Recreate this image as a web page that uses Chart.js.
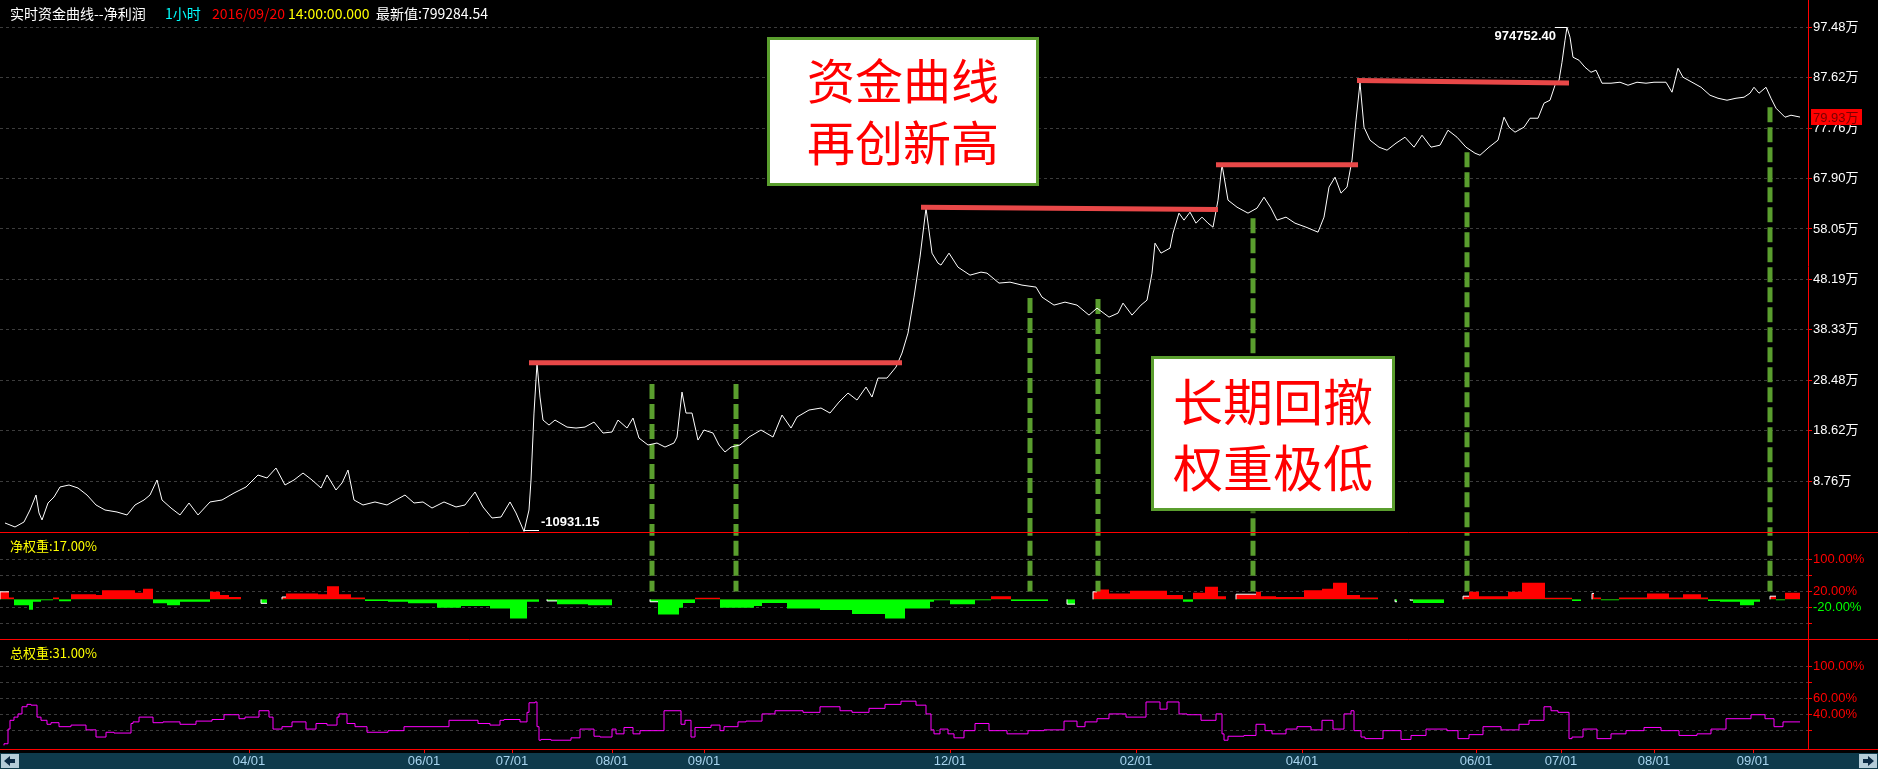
<!DOCTYPE html>
<html>
<head>
<meta charset="utf-8">
<script src="https://cdn.jsdelivr.net/npm/chart.js@4.4.1/dist/chart.umd.min.js"></script>
<style>
html, body { margin: 0; padding: 0; background: #000; }
#wrap { position: relative; width: 1878px; height: 769px; background: #000; overflow: hidden; }
canvas { position: absolute; left: 0; }
.t { position: absolute; white-space: nowrap; font-family: "Noto Sans CJK SC", sans-serif; font-size: 14px; line-height: 14px; }
.box { position: absolute; box-sizing: border-box; background: #fff; border: 3px solid #5a9e2e; color: #ff0000;
       text-align: center; font-family: "Noto Sans CJK SC", sans-serif; box-shadow: 2px 2px 4px rgba(0,0,0,.6); }
</style>
</head>
<body>
<div id="wrap">
  <canvas id="cMain" width="1878" height="532" style="top:0"></canvas>
  <canvas id="cNet" width="1878" height="107" style="top:532px"></canvas>
  <canvas id="cTotal" width="1878" height="130" style="top:639px"></canvas>

  <div class="t" style="left:10px;top:6px;color:#fff">实时资金曲线--净利润</div>
  <div class="t" style="left:165px;top:6px;color:#00ffff">1小时</div>
  <div class="t" style="left:212px;top:6px;color:#ff0000">2016/09/20</div>
  <div class="t" style="left:288px;top:6px;color:#ffff00">14:00:00.000</div>
  <div class="t" style="left:376px;top:6px;color:#fff">最新值:799284.54</div>

  <div class="t" style="left:10px;top:539px;color:#ffff00;font-size:13px">净权重:17.00%</div>
  <div class="t" style="left:10px;top:646px;color:#ffff00;font-size:13px">总权重:31.00%</div>

  <div class="box" style="left:767px;top:37px;width:272px;height:149px;padding-top:7px;font-size:48px;line-height:62px">资金曲线<br>再创新高</div>
  <div class="box" style="left:1151px;top:356px;width:244px;height:155px;padding-top:7px;font-size:50px;line-height:66px">长期回撤<br>权重极低</div>
</div>

<script>
// x = 小时K线序号, 横轴刻度对应月初
const monthTickIdx = [249, 424, 512, 612, 704, 950, 1136, 1302, 1476, 1561, 1654, 1753];
const monthTickLabels = ['04/01', '06/01', '07/01', '08/01', '09/01', '12/01', '02/01', '04/01', '06/01', '07/01', '08/01', '09/01'];

// 资金曲线 (万)
const equityTicks = [8.76, 18.62, 28.48, 38.33, 48.19, 58.05, 67.90, 77.76, 87.62, 97.48];
const equity = [
  [5,0.55],[15,-0.23],[24,0.75],[30,3.09],[36,6.02],[39,2.51],[42,1.14],[48,4.46],[54,5.63],[60,7.59],
  [69,7.98],[78,7.39],[87,6.02],[96,4.07],[105,3.09],[117,2.70],[127,2.12],[135,4.07],[144,5.05],[150,6.02],
  [157,8.96],[162,5.05],[171,3.48],[180,2.12],[189,4.46],[198,2.12],[210,4.66],[222,5.05],[234,6.41],[246,7.59],
  [258,9.93],[267,9.35],[276,11.30],[285,7.98],[294,8.96],[303,10.32],[312,8.96],[321,7.39],[327,9.93],[336,7.00],
  [342,8.37],[348,10.91],[354,5.05],[363,4.07],[375,4.66],[387,4.07],[396,5.05],[405,6.02],[414,4.46],[423,4.66],
  [432,3.48],[444,4.66],[456,3.68],[465,4.07],[475,6.61],[483,3.68],[492,1.53],[501,1.72],[510,4.66],[516,2.51],
  [524,-1.093115],[529,3.09],[531,8.96],[534,22.05],[537,31.80],[540,25.18],[543,20.68],[549,19.70],[555,20.68],[567,19.31],
  [576,19.12],[585,19.31],[594,20.29],[603,18.14],[612,18.34],[618,20.68],[627,19.12],[633,21.07],[639,17.16],[648,15.80],
  [657,16.19],[665,15.40],[674,16.19],[677,17.36],[682,26.15],[686,22.05],[692,22.05],[698,16.77],[704,18.73],[713,18.14],
  [719,15.80],[725,14.43],[731,15.40],[740,15.80],[749,17.36],[761,18.73],[773,17.36],[782,21.66],[791,19.12],[797,21.27],
  [809,22.64],[821,23.03],[830,22.05],[839,24.20],[848,25.96],[857,24.59],[866,27.13],[872,25.18],[878,28.89],[887,28.89],
  [896,31.04],[902,33.78],[908,37.69],[914,44.72],[920,52.54],[926,62.10],[932,53.32],[938,51.37],[941,50.98],[949,53.32],
  [958,50.58],[970,49.02],[981,49.61],[987,49.41],[999,47.46],[1010,47.65],[1022,47.07],[1036,46.68],[1042,44.72],[1054,43.16],
  [1065,43.74],[1077,43.16],[1089,41.20],[1097,42.57],[1109,40.81],[1118,41.59],[1123,43.55],[1132,41.20],[1141,43.16],[1147,44.13],
  [1152,49.41],[1155,55.27],[1161,53.32],[1170,54.30],[1173,57.23],[1179,61.14],[1184,59.77],[1190,61.33],[1196,59.18],[1202,60.36],
  [1208,59.18],[1213,58.40],[1218,63.68],[1222,70.60],[1228,63.68],[1237,62.31],[1248,61.14],[1257,62.12],[1264,64.26],[1271,62.12],
  [1277,59.77],[1286,60.36],[1295,59.18],[1306,58.40],[1318,57.42],[1324,60.36],[1329,66.22],[1335,68.17],[1341,65.05],[1347,66.22],
  [1352,71.50],[1356,79.31],[1360,86.60],[1364,77.95],[1370,75.41],[1379,74.04],[1387,73.45],[1396,74.82],[1405,75.99],[1414,74.04],
  [1422,76.38],[1431,74.04],[1440,74.43],[1448,77.36],[1457,75.99],[1466,74.04],[1475,72.86],[1480,72.47],[1489,74.04],[1498,75.41],
  [1504,79.90],[1509,77.95],[1515,76.97],[1524,77.95],[1530,79.70],[1538,79.70],[1544,82.64],[1550,83.22],[1555,86.15],[1559,87.13],
  [1562,90.65],[1565,94.95],[1567,97.47524],[1570,95.54],[1573,91.63],[1579,91.04],[1585,89.67],[1591,88.69],[1596,89.09],[1602,86.55],
  [1611,86.55],[1620,86.74],[1628,86.15],[1637,86.74],[1646,86.55],[1654,86.74],[1666,86.74],[1672,84.79],[1678,89.48],[1683,87.72],
  [1692,86.74],[1701,85.76],[1710,84.20],[1718,83.61],[1727,83.22],[1736,83.61],[1744,83.81],[1750,84.59],[1754,85.76],[1759,84.59],
  [1766,85.76],[1771,83.61],[1776,81.66],[1785,79.90],[1791,80.29],[1800,79.928454]
];

// 新高水平线: [起点x, 起点值, 终点x, 终点值]
const newHighs = [[529,31.88,902,31.88],[921,62.31,1218,61.86],[1216,70.62,1358,70.62],[1357,87.10,1569,86.60]];
// 回撤标记竖线: [x, 顶部值(万)], 向下延伸到净权重面板
const drawdownMarks = [[652,27.72],[736,27.72],[1030,44.53],[1098,44.33],[1253,60.16],[1467,73.06],[1770,81.85]];
const markBottomPct = 20;

// 净权重 (%), 阶梯
const netTickValues = [100, 60, 20, -20, -60];
const netTickLabels = ['100.00%', '', '20.00%', '-20.00%', ''];
const netWeight = [
  [0,0],[9,19],[14,5],[29,-15],[33,-26],[41,-6],[53,-2],[59,5],[71,-5],[96,13],[102,11],[135,23],[143,17],[153,27],
  [167,-10],[180,-15],[210,-6],[220,19],[229,11],[241,6],[261,0],[267,-10],[282,0],[286,6],[318,15],[327,13],[339,33],
  [351,13],[365,5],[388,-4],[408,-6],[437,-10],[461,-21],[490,-17],[510,-23],[527,-48],[539,-6],[547,0],[557,-4],[588,-12],
  [612,-15],[650,0],[658,-6],[679,-38],[683,-21],[695,-9],[720,4],[754,-21],[762,-17],[787,-9],[820,-23],[852,-27],[885,-37],
  [905,-48],[930,-23],[934,-6],[950,-2],[975,-12],[991,-2],[1011,8],[1022,-4],[1048,-4],[1067,0],[1075,-12],[1093,0],
  [1097,19],[1109,25],[1130,15],[1146,22],[1167,22],[1183,11],[1193,-6],[1205,17],[1218,32],[1226,8],[1236,0],
  [1256,13],[1261,19],[1276,8],[1304,6],[1322,23],[1333,27],[1347,42],[1360,11],[1378,5],[1395,0],[1397,-6],[1410,0],
  [1413,-2],[1444,-9],[1463,0],[1469,8],[1479,19],[1508,8],[1522,19],[1545,42],[1572,4],[1581,-4],[1592,0],[1594,15],
  [1601,5],[1619,-2],[1647,5],[1669,15],[1683,5],[1701,13],[1708,5],[1720,-4],[1740,-6],[1754,-15],[1760,-6],[1770,0],
  [1776,8],[1785,-2],[1797,17],[1800,17]
];

// 总权重 (%), 阶梯
const totalTickValues = [100, 80, 60, 40, 20];
const totalTickLabels = ['100.00%', '', '60.00%', '40.00%', ''];
const totalWeight = [
  [4,1.5],[8,3.6],[10,22],[14,33],[18,37],[22,41],[27,50],[31,53],[37,52],[41,37],[47,33],[51,28],[59,30],[71,25],[86,27],
  [96,21],[106,12],[114,18],[131,17],[133,29],[139,31],[153,37],[163,30],[180,31],[196,28],[212,32],[224,34],[239,40],
  [245,35],[259,37],[269,45],[273,37],[282,22],[292,25],[306,31],[316,22],[327,29],[337,27],[339,37],[347,41],[355,29],
  [367,25],[388,18],[404,20],[427,25],[449,25],[461,33],[478,33],[490,29],[500,27],[504,33],[520,34],[527,31],[529,43],
  [535,55],[537,56],[539,25],[541,8],[551,9],[571,8],[580,11],[594,22],[600,13],[612,12],[616,22],[624,16],[633,24],
  [640,16],[664,20],[681,45],[685,28],[691,33],[695,12],[711,24],[720,27],[724,20],[738,25],[746,31],[762,32],[775,41],
  [803,45],[820,43],[840,50],[852,45],[869,43],[885,48],[901,53],[916,57],[926,52],[931,41],[934,21],[940,16],[948,22],
  [954,16],[964,11],[975,20],[989,29],[1007,20],[1028,16],[1044,20],[1064,21],[1077,32],[1085,25],[1097,31],[1109,35],
  [1126,41],[1146,37],[1160,56],[1167,47],[1179,56],[1187,41],[1201,40],[1216,33],[1222,41],[1224,16],[1228,8],[1244,13],
  [1256,14],[1265,28],[1272,20],[1286,16],[1297,22],[1311,25],[1322,21],[1333,33],[1344,22],[1351,41],[1354,45],[1361,20],
  [1365,12],[1383,10],[1401,20],[1411,9],[1426,14],[1447,22],[1458,20],[1469,10],[1483,15],[1501,25],[1519,21],[1529,28],
  [1544,33],[1551,50],[1558,45],[1569,43],[1572,10],[1583,12],[1597,22],[1611,10],[1626,16],[1644,20],[1661,24],[1679,20],
  [1697,14],[1711,16],[1726,22],[1751,35],[1765,40],[1774,35],[1783,25],[1797,31],[1800,31]
];

Chart.defaults.font.family = '"Liberation Sans", Arial, "Noto Sans CJK SC", sans-serif';
Chart.defaults.font.size = 13;

const RED = '#ff0000';
const GRID = '#3c3c3c';
const MARK = '#5a9e2e';
const pts = arr => arr.map(p => ({ x: p[0], y: p[1] }));

const fixY = s => { s.width = 70; s.paddingTop = 0; s.paddingBottom = 0; };
const hiddenX = { type: 'linear', min: 0, max: 1808, display: false };
const baseOpts = {
  responsive: false, animation: false, events: [],
  layout: { padding: 0 },
  plugins: { legend: { display: false }, tooltip: { enabled: false } }
};
const yAxis = (min, max, tickVals, tickLabels, color) => ({
  position: 'right', min, max,
  afterBuildTicks: s => { s.ticks = tickVals.map(v => ({ value: v })); },
  afterFit: fixY,
  ticks: { color, padding: 1, callback: (v, i) => tickLabels[i] },
  grid: { color: GRID, tickColor: RED, tickLength: 4 },
  border: { color: RED, width: 1, dash: [3, 3] }
});

// 面板分隔线
const separator = (drawBottom) => ({
  id: 'separator',
  afterDraw(chart) {
    const { ctx, chartArea } = chart;
    ctx.save();
    ctx.strokeStyle = RED; ctx.lineWidth = 1;
    ctx.beginPath();
    ctx.moveTo(0, 0.5); ctx.lineTo(chart.width, 0.5);
    if (drawBottom) { ctx.moveTo(0, chartArea.bottom + 0.5); ctx.lineTo(chart.width, chartArea.bottom + 0.5); }
    ctx.stroke();
    ctx.restore();
  }
});

// 最高/最低标注 + 最新值
const mainMarks = {
  id: 'mainMarks',
  afterDraw(chart) {
    const { ctx, scales: { x, y } } = chart;
    let hi = equity[0], lo = equity[0];
    equity.forEach(p => { if (p[1] > hi[1]) hi = p; if (p[1] < lo[1]) lo = p; });
    const last = equity[equity.length - 1];
    ctx.save();
    ctx.fillStyle = '#fff'; ctx.strokeStyle = '#fff'; ctx.lineWidth = 1;
    ctx.font = 'bold 13px "Liberation Sans Narrow", "Liberation Sans", Arial';

    const hx = x.getPixelForValue(hi[0]), hy = Math.round(y.getPixelForValue(hi[1])) + 0.5;
    ctx.beginPath(); ctx.moveTo(hx - 12, hy); ctx.lineTo(hx, hy); ctx.stroke();
    ctx.textAlign = 'right'; ctx.textBaseline = 'top';
    ctx.fillText((hi[1] * 10000).toFixed(2), hx - 11, hy + 2);

    const lx = x.getPixelForValue(lo[0]), ly = Math.round(y.getPixelForValue(lo[1])) - 0.5;
    ctx.beginPath(); ctx.moveTo(lx, ly); ctx.lineTo(lx + 15, ly); ctx.stroke();
    ctx.textAlign = 'left'; ctx.textBaseline = 'bottom';
    ctx.fillText((lo[1] * 10000).toFixed(2), lx + 17, ly - 2);

    const by = y.getPixelForValue(last[1]);
    ctx.fillStyle = RED;
    ctx.fillRect(x.right + 3, Math.round(by) - 8, 51, 16);
    ctx.fillStyle = '#7a0000';
    ctx.font = '13px "Liberation Sans", Arial, "Noto Sans CJK SC"';
    ctx.textAlign = 'left'; ctx.textBaseline = 'middle';
    ctx.fillText(last[1].toFixed(2) + '万', x.right + 5, by + 1);
    ctx.restore();
  }
};

// 底部时间轴底色与按钮
const timeBar = {
  id: 'timeBar',
  beforeDraw(chart) {
    const { ctx, chartArea } = chart;
    const top = chartArea.bottom + 4, h = chart.height - top;
    ctx.save();
    ctx.fillStyle = '#0e3a4b';
    ctx.fillRect(0, top, chart.width, h);
    [[1, -1], [chart.width - 19, 1]].forEach(([bx, dir]) => {
      ctx.fillStyle = '#b4ccd8';
      ctx.fillRect(bx, top + 1, 18, h - 2);
      ctx.fillStyle = '#0a2a44';
      const cx = bx + 9, cy = top + h / 2;
      ctx.beginPath();
      ctx.moveTo(cx + dir * 6, cy);
      ctx.lineTo(cx, cy - 5);
      ctx.lineTo(cx, cy - 2);
      ctx.lineTo(cx - dir * 5, cy - 2);
      ctx.lineTo(cx - dir * 5, cy + 2);
      ctx.lineTo(cx, cy + 2);
      ctx.lineTo(cx, cy + 5);
      ctx.closePath();
      ctx.fill();
    });
    ctx.restore();
  }
};

// 资金曲线面板
new Chart(document.getElementById('cMain'), {
  type: 'line',
  data: {
    datasets: [
      ...newHighs.map(s => ({
        data: [{ x: s[0], y: s[1] }, { x: s[2], y: s[3] }],
        borderColor: '#e84848', borderWidth: 5, pointRadius: 0, borderCapStyle: 'butt', order: 0
      })),
      { data: pts(equity), borderColor: '#ffffff', borderWidth: 1, pointRadius: 0, tension: 0, order: 1 },
      ...drawdownMarks.map(m => ({
        data: [{ x: m[0], y: m[1] }, { x: m[0], y: -20 }],
        borderColor: MARK, borderWidth: 5, borderDash: [15, 5], pointRadius: 0, borderCapStyle: 'butt', order: 2
      }))
    ]
  },
  options: {
    ...baseOpts,
    scales: {
      x: hiddenX,
      y: yAxis(-1.21, 102.82, equityTicks, equityTicks.map(v => v.toFixed(2) + '万'), '#ffffff')
    }
  },
  plugins: [mainMarks]
});

// 净权重面板
new Chart(document.getElementById('cNet'), {
  type: 'line',
  data: {
    datasets: [
      {
        data: pts(netWeight), stepped: 'after', pointRadius: 0, borderWidth: 1,
        borderColor: 'rgba(0,0,0,0)',
        segment: { borderColor: c => (c.p0.parsed.y === 0 ? '#ffffff' : 'rgba(0,0,0,0)') },
        fill: { target: 'origin', above: '#ff0000', below: '#00ff00' }, order: 1
      },
      ...drawdownMarks.map(m => ({
        data: [{ x: m[0], y: 400 }, { x: m[0], y: markBottomPct }],
        borderColor: MARK, borderWidth: 5, borderDash: [15, 5], pointRadius: 0, borderCapStyle: 'butt', order: 0
      }))
    ]
  },
  options: {
    ...baseOpts,
    scales: {
      x: hiddenX,
      y: {
        ...yAxis(-100, 170, netTickValues, netTickLabels, RED),
        ticks: { padding: 1, callback: (v, i) => netTickLabels[i], color: c => (c.tick && c.tick.value < 0 ? '#00ff00' : RED) }
      }
    }
  },
  plugins: [separator(false)]
});

// 总权重面板
new Chart(document.getElementById('cTotal'), {
  type: 'line',
  data: {
    datasets: [
      { data: pts(totalWeight), stepped: 'after', pointRadius: 0, borderWidth: 1, borderColor: '#ff00ff' }
    ]
  },
  options: {
    ...baseOpts,
    scales: {
      x: {
        type: 'linear', min: 0, max: 1808, position: 'bottom',
        afterBuildTicks: s => { s.ticks = monthTickIdx.map(v => ({ value: v })); },
        afterFit: s => { s.height = 20; s.paddingLeft = 0; s.paddingRight = 0; },
        ticks: { color: '#a8d4ee', autoSkip: false, maxRotation: 0, padding: 1, callback: (v, i) => monthTickLabels[i] },
        grid: { drawOnChartArea: false, tickColor: RED, tickLength: 4 },
        border: { color: RED }
      },
      y: yAxis(-3, 135, totalTickValues, totalTickLabels, RED)
    }
  },
  plugins: [timeBar, separator(true)]
});
</script>
</body>
</html>
